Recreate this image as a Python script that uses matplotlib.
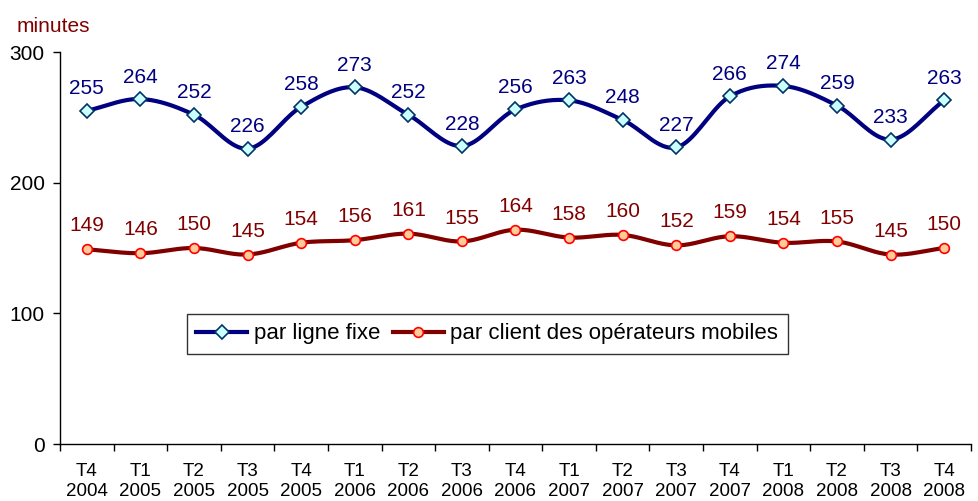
import numpy as np
import matplotlib
matplotlib.use("Agg")
import matplotlib.pyplot as plt
from matplotlib.lines import Line2D

plt.rcParams['font.family'] = ['Liberation Sans', 'DejaVu Sans']

quarters = ["T4", "T1", "T2", "T3", "T4", "T1", "T2", "T3", "T4",
            "T1", "T2", "T3", "T4", "T1", "T2", "T3", "T4"]
years = ["2004", "2005", "2005", "2005", "2005", "2006", "2006", "2006", "2006",
         "2007", "2007", "2007", "2007", "2008", "2008", "2008", "2008"]
fixe = [255, 264, 252, 226, 258, 273, 252, 228, 256, 263, 248, 227, 266, 274, 259, 233, 263]
mobile = [149, 146, 150, 145, 154, 156, 161, 155, 164, 158, 160, 152, 159, 154, 155, 145, 150]
series_names = ["par ligne fixe", "par client des opérateurs mobiles"]
yticks = [0, 100, 200, 300]


def smooth(xs, ys, n=20):
    # Catmull-Rom drawing of the line through the data points (Excel-like smoothing)
    xs = np.asarray(xs, float)
    ys = np.asarray(ys, float)
    px = np.concatenate([[2 * xs[0] - xs[1]], xs, [2 * xs[-1] - xs[-2]]])
    py = np.concatenate([[2 * ys[0] - ys[1]], ys, [2 * ys[-1] - ys[-2]]])
    ox, oy = [], []
    t = np.linspace(0, 1, n, endpoint=False)
    for i in range(1, len(px) - 2):
        for P, out in ((px, ox), (py, oy)):
            p0, p1, p2, p3 = P[i - 1], P[i], P[i + 1], P[i + 2]
            v = 0.5 * ((2 * p1) + (-p0 + p2) * t + (2 * p0 - 5 * p1 + 4 * p2 - p3) * t ** 2
                       + (-p0 + 3 * p1 - 3 * p2 + p3) * t ** 3)
            out.extend(v)
    ox.append(xs[-1]); oy.append(ys[-1])
    return np.array(ox), np.array(oy)


fig = plt.figure(figsize=(9.79, 5.01), dpi=100)
ax = fig.add_axes([60 / 979, 57 / 501, 911 / 979, 392 / 501])

x = np.arange(len(fixe))
blue = "#000080"
dred = "#800000"

sx, sy = smooth(x, fixe)
ax.plot(sx, sy, color=blue, lw=3, solid_capstyle='round', zorder=3)
ax.plot(x, fixe, ls='none', marker='D', ms=7, mfc="#CCFFFF", mec="#003366", mew=1.2, zorder=4)

sx, sy = smooth(x, mobile)
ax.plot(sx, sy, color=dred, lw=3, solid_capstyle='round', zorder=3)
ax.plot(x, mobile, ls='none', marker='o', ms=7, mfc="#FFCC99", mec="#FF0000", mew=1.2, zorder=4)

for xi, v in zip(x, fixe):
    ax.annotate(str(v), (xi, v), xytext=(0, 9), textcoords='offset points',
                ha='center', va='bottom', fontsize=15, color=blue)
for xi, v in zip(x, mobile):
    ax.annotate(str(v), (xi, v), xytext=(0, 10), textcoords='offset points',
                ha='center', va='bottom', fontsize=15, color=dred)

ax.set_xlim(-0.5, len(fixe) - 0.5)
ax.set_ylim(0, 300)
ax.set_yticks(yticks)
ax.set_yticklabels([str(v) for v in yticks], fontsize=15)
ax.tick_params(axis='y', direction='out', length=5, width=1, pad=6)

ax.set_xticks(np.arange(len(fixe) + 1) - 0.5)
ax.set_xticklabels([])
ax.tick_params(axis='x', which='major', direction='out', length=5, width=1)
ax.set_xticks(x, minor=True)
ax.set_xticklabels([f"{q}\n{y}" for q, y in zip(quarters, years)], minor=True,
                   fontsize=13.5, linespacing=1.2)
ax.tick_params(axis='x', which='minor', length=0, pad=14)

for s in ("top", "right"):
    ax.spines[s].set_visible(False)
for s in ("left", "bottom"):
    ax.spines[s].set_linewidth(1)

fig.text(17 / 979, 1 - 27 / 501, "minutes", color=dred, fontsize=15, ha='left', va='center')

handles = [
    Line2D([], [], color=blue, lw=3, marker='D', ms=7, mfc="#CCFFFF", mec="#003366", mew=1.2),
    Line2D([], [], color=dred, lw=3, marker='o', ms=7, mfc="#FFCC99", mec="#FF0000", mew=1.2),
]
leg = ax.legend(handles, series_names, loc='upper left', bbox_to_anchor=(187 / 979, 1 - 314 / 501),
                bbox_transform=fig.transFigure, ncol=2, fontsize=16, frameon=True, fancybox=False,
                edgecolor='black', handlelength=2.3, handletextpad=0.3, columnspacing=0.55,
                borderpad=0.42, borderaxespad=0)
leg.get_frame().set_linewidth(1)

fig.savefig("out.png", dpi=100)
